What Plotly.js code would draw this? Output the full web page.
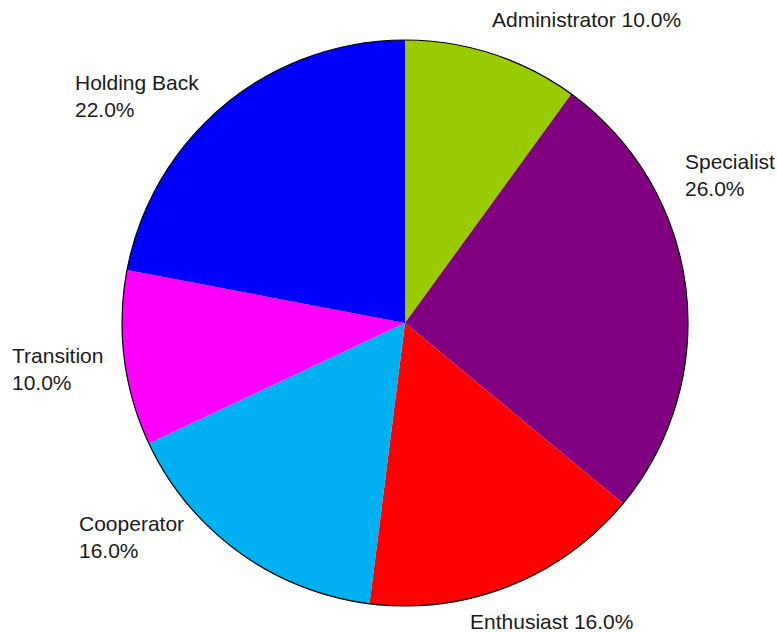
<!DOCTYPE html>
<html>
<head>
<meta charset="utf-8">
<script src="https://cdn.plot.ly/plotly-3.0.1.min.js"></script>
<style>html,body{margin:0;padding:0;background:#fff;}#chart{width:777px;height:632px;}</style>
</head>
<body>
<div id="chart"></div>
<script>
const labels = ["Administrator", "Specialist", "Enthusiast", "Cooperator", "Transition", "Holding Back"];
const values = [10, 26, 16, 16, 10, 22];
const colors = ["#99CC00", "#800080", "#FF0000", "#00B0F0", "#FF00FF", "#0000FF"];
// label layout: [x px (left), y px (centre), two-line?]
const labelPos = [[490, 20, false], [683, 175, true], [468, 621, false], [77, 537, true], [10, 369, true], [73, 96, true]];

const W = 777, H = 632;
const cx = 405, cy = 323, r = 283;
const domain = {x: [(cx - r) / W, (cx + r) / W], y: [(H - cy - r) / H, (H - cy + r) / H]};

const total = values.reduce((a, b) => a + b, 0);
const annotations = labels.map((l, i) => {
  const pct = (100 * values[i] / total).toFixed(1) + "%";
  const p = labelPos[i];
  return {
    xref: "paper", yref: "paper",
    x: p[0] / W, y: 1 - p[1] / H,
    xanchor: "left", yanchor: "middle", align: "left",
    showarrow: false,
    text: l + (p[2] ? "<br>" : " ") + pct,
    font: {family: "Liberation Sans, Arial, sans-serif", size: 21, color: "#1a1a1a"}
  };
});

const data = [
  {
    type: "pie", labels: labels, values: values, sort: false,
    direction: "clockwise", rotation: 0,
    marker: {colors: colors, line: {width: 0}},
    textinfo: "none", hoverinfo: "label+percent", domain: domain, showlegend: false
  },
  {
    type: "pie", labels: ["outline"], values: [1], sort: false,
    marker: {colors: ["rgba(0,0,0,0)"], line: {color: "#000", width: 1.2}},
    textinfo: "none", hoverinfo: "skip", domain: domain, showlegend: false
  }
];

const layout = {
  width: W, height: H,
  margin: {l: 0, r: 0, t: 0, b: 0},
  paper_bgcolor: "#fff", plot_bgcolor: "#fff",
  showlegend: false,
  annotations: annotations
};

Plotly.newPlot("chart", data, layout, {displayModeBar: false, staticPlot: true});
</script>
</body>
</html>
